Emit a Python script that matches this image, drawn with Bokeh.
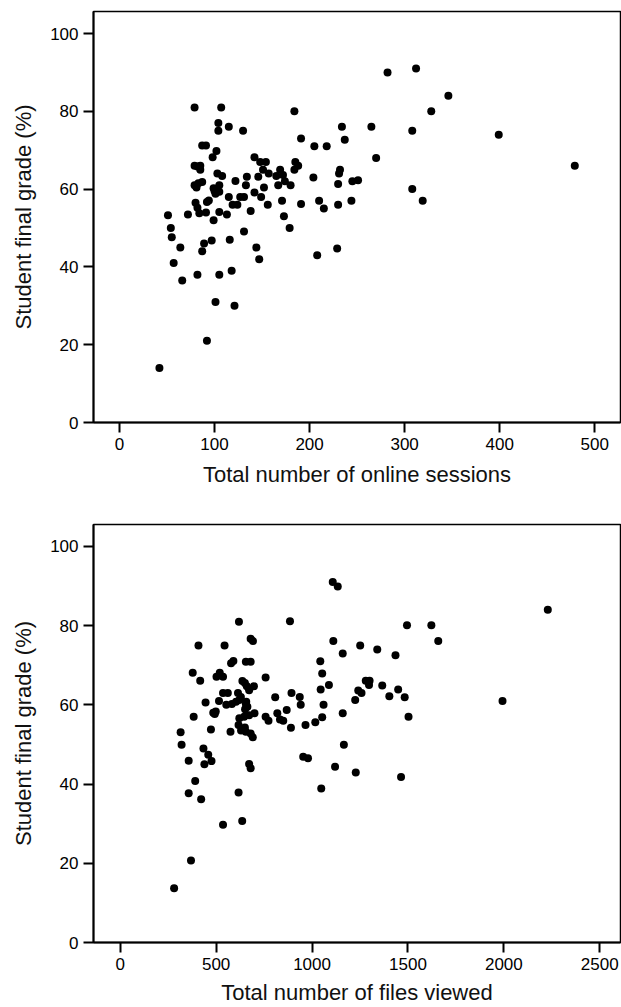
from bokeh.plotting import figure
from bokeh.layouts import column
from bokeh.models import Range1d, FixedTicker
from bokeh.embed import file_html
from bokeh.resources import INLINE

# ---- data: top panel (online sessions vs final grade) ----
sessions = [42, 92, 101, 121, 66, 82, 105, 118, 57, 208,
            229, 144, 147, 64, 87, 89, 97, 116, 55, 54,
            51, 72, 131, 179, 173, 99, 82, 84, 91, 105,
            113, 119, 124, 138, 156, 171, 191, 210, 215, 230,
            244, 308, 319, 80, 94, 92, 101, 115, 127, 131,
            142, 149, 152, 133, 134, 122, 108, 103, 102, 105,
            100, 105, 99, 79, 83, 87, 81, 79, 85, 85,
            82, 87, 91, 98, 102, 104, 104, 79, 107, 115,
            130, 142, 148, 154, 146, 151, 157, 165, 167, 169,
            172, 174, 180, 184, 184, 185, 188, 191, 204, 205,
            218, 230, 231, 232, 234, 237, 245, 251, 265, 270,
            282, 308, 312, 328, 346, 399, 479]
grade_s = [14, 21, 31, 30, 36.5, 38, 38, 39, 41, 43,
           44.7, 45, 42, 45, 44, 46, 46.8, 47, 47.6, 50,
           53.3, 53.5, 49.1, 50, 53, 52, 55.2, 53.8, 54, 54.1,
           53.5, 56, 56, 54.4, 56, 57, 56.2, 57, 55, 56,
           57, 60, 57, 56.5, 57.1, 56.7, 58.8, 58, 58, 58,
           59.1, 58, 60.4, 61, 63.2, 62.1, 63.4, 64, 60, 61,
           59.5, 59.3, 60.2, 61, 61.5, 61.8, 60.4, 66, 66, 65,
           65.8, 71.2, 71.2, 68.2, 69.8, 77, 75, 81, 81, 76,
           75, 68.2, 67, 67, 63.2, 65, 64, 63.4, 61, 65,
           63.6, 62, 61, 80, 65, 67, 66, 73, 63, 71,
           71, 61.3, 64, 65, 76, 72.7, 62, 62.3, 76, 68,
           90, 75, 91, 80, 84, 74, 66]

# ---- data: bottom panel (files viewed vs final grade) ----
files = [281, 369, 536, 636, 357, 422, 617, 391, 1048, 1228,
         1464, 1120, 357, 439, 434, 459, 476, 672, 680, 954,
         979, 1166, 315, 320, 383, 473, 575, 617, 630, 650,
         655, 680, 691, 890, 966, 1017, 1053, 1503, 1160, 1060,
         1993, 1225, 850, 868, 819, 833, 758, 773, 621, 646,
         672, 700, 485, 498, 493, 445, 515, 553, 582, 604,
         651, 657, 663, 655, 536, 561, 614, 629, 621, 637,
         650, 660, 672, 697, 758, 502, 519, 536, 417, 378,
         578, 590, 655, 680, 408, 544, 680, 692, 619, 885,
         808, 893, 936, 941, 1043, 1053, 1088, 1045, 1108, 1134,
         1111, 1160, 1251, 1340, 1435, 1495, 1622, 1658, 2229, 1241,
         1258, 1280, 1300, 1297, 1366, 1449, 1403, 1483]
grade_f = [13.7, 20.7, 29.7, 30.7, 37.7, 36.2, 37.9, 40.8, 38.9, 42.9,
           41.8, 44.4, 45.9, 45, 49, 47.4, 45.8, 45.1, 44, 46.9,
           46.5, 49.9, 53.1, 49.9, 57, 53.8, 53.2, 54.9, 53.5, 54.3,
           53.2, 52.8, 51.8, 54.2, 54.9, 55.6, 56.9, 57, 57.9, 60,
           61, 61.2, 56, 58.7, 57.9, 56.3, 57, 56, 56.6, 57,
           57.4, 57.9, 58, 58.3, 57.7, 60.6, 61, 60, 60.2, 60.8,
           58.9, 60.8, 59.5, 60.2, 63, 63, 63, 62, 61.2, 66,
           65.5, 64.7, 63.7, 64.7, 66.9, 67.1, 68.1, 67.1, 66.1, 68.1,
           70.5, 71.1, 70.9, 70.9, 75, 75, 76.7, 76.1, 81, 81.1,
           61.9, 63, 62, 60, 71, 67.9, 65, 63.9, 91, 89.9,
           76.1, 73, 75, 74, 72.5, 80.1, 80.1, 76.1, 84, 63.6,
           63, 66.1, 66.1, 65, 64.9, 63.9, 62.2, 61.9]

y_ticks = [0, 20, 40, 60, 80, 100]
x_ticks_sessions = [0, 100, 200, 300, 400, 500]
x_ticks_files = [0, 500, 1000, 1500, 2000, 2500]

y_label = "Student final grade (%)"
x_label_top = "Total number of online sessions"
x_label_bottom = "Total number of files viewed"

FONT = "Liberation Sans"


def make(width, height, left, right, top, bottom, xr, yr, xticks, xlabel,
         xlab_standoff, xmaj_standoff):
    p = figure(width=width, height=height, x_range=Range1d(*xr),
               y_range=Range1d(*yr), output_backend="svg",
               toolbar_location=None, title=None,
               min_border_left=left, min_border_right=right,
               min_border_top=top, min_border_bottom=bottom)
    p.background_fill_color = "white"
    p.border_fill_color = "white"
    p.outline_line_color = "black"
    p.outline_line_width = 1.5
    p.xgrid.visible = False
    p.ygrid.visible = False
    for ax in (p.xaxis[0], p.yaxis[0]):
        ax.axis_line_color = "black"
        ax.axis_line_width = 2
        ax.major_tick_line_color = "black"
        ax.major_tick_line_width = 2
        ax.major_tick_out = 10
        ax.major_tick_in = 0
        ax.minor_tick_line_color = None
        ax.major_label_text_font = FONT
        ax.major_label_text_font_size = "17px"
        ax.major_label_text_color = "black"
        ax.axis_label_text_font = FONT
        ax.axis_label_text_font_size = "22px"
        ax.axis_label_text_font_style = "normal"
        ax.axis_label_text_color = "#111111"
    p.yaxis[0].ticker = FixedTicker(ticks=y_ticks)
    p.xaxis[0].ticker = FixedTicker(ticks=xticks)
    p.yaxis[0].axis_label = y_label
    p.yaxis[0].major_label_standoff = 5
    p.yaxis[0].axis_label_standoff = 11
    p.xaxis[0].axis_label = xlabel
    p.xaxis[0].major_label_standoff = xmaj_standoff
    p.xaxis[0].axis_label_standoff = xlab_standoff
    return p


p1 = make(621, 500, 93, 1, 11, 78, (-27.35, 527.1), (0, 105.66),
          x_ticks_sessions, x_label_top, 9, 5)
p1.scatter(sessions, grade_s, size=8, fill_color="black", line_color=None)

p2 = make(621, 507, 88, 0, 24, 64, (-139.2, 2608.0), (0, 105.54),
          x_ticks_files, x_label_bottom, 7, 5)
p2.scatter(files, grade_f, size=8, fill_color="black", line_color=None)

layout = column(p1, p2, spacing=0)
open("out.html", "w").write(file_html(layout, INLINE))
